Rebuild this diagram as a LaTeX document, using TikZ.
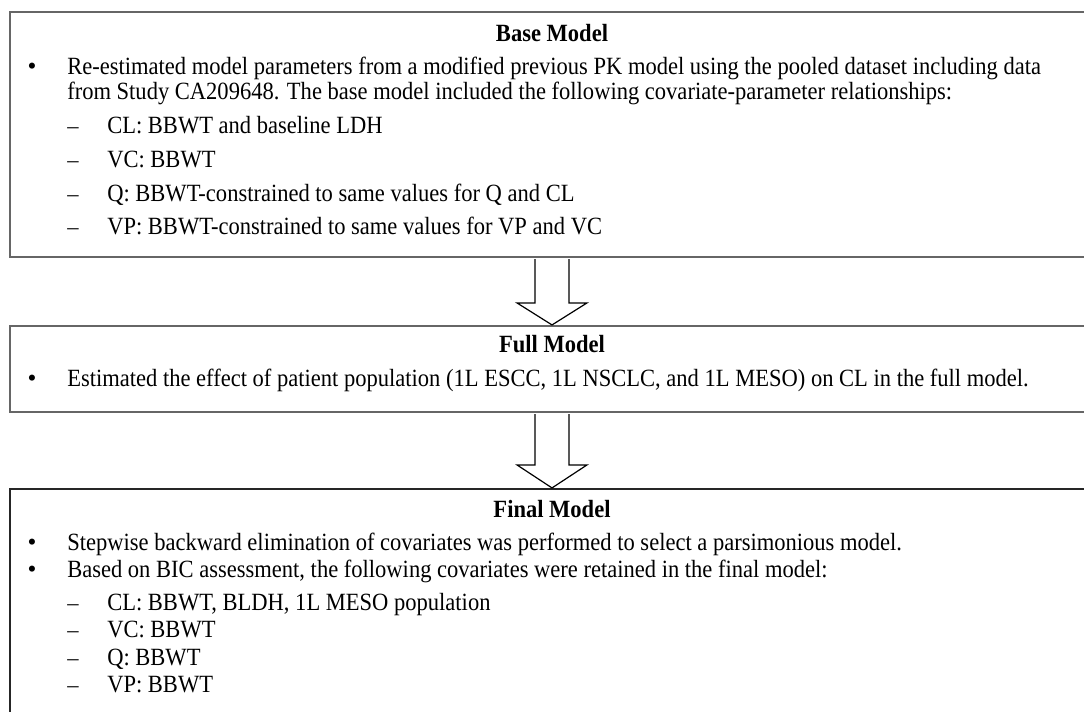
\documentclass[tikz,border=0pt]{standalone}
\usepackage{fontspec}
\usepackage{graphicx}
\setmainfont{Liberation Serif}
\usetikzlibrary{calc}
\newcommand{\vstr}[1]{\scalebox{1}[1.1]{#1}}
\begin{document}
\begin{tikzpicture}[x=0.75pt,y=-0.75pt,
  boxgray/.style={draw=black!60, line width=1.6pt, rectangle, inner sep=0pt, minimum width=813pt},
  boxdark/.style={draw=black!85, line width=1.6pt, rectangle, inner sep=0pt, minimum width=813pt},
  txt/.style={anchor=base west, inner sep=0pt, font=\fontsize{16.9}{20}\selectfont},
  ttl/.style={anchor=base, inner sep=0pt, font=\fontsize{16.9}{20}\selectfont\bfseries},
  bul/.style={anchor=base, inner sep=0pt, font=\fontsize{19}{20}\selectfont},
  blockarrow/.style={draw=black, line width=0.9pt, line join=miter}
]
\useasboundingbox (0,0) rectangle (1084,712);
\clip (0,0) rectangle (1084,712);
\fill[white] (0,0) rectangle (1084,712);

% boxes
\node[boxgray, minimum height=183.75pt] (base) at (552,134.5) {};
\node[boxgray, minimum height=64.5pt] (full) at (552,369) {};
\node[boxdark, minimum height=203.25pt] (final) at (552,624.5) {};

% arrows
\draw[blockarrow] ($(base.south)+(-17,1)$) -- ($(full.north)+(-17,-22)$) -- ($(full.north)+(-35,-22)$)
  -- (full.north) -- ($(full.north)+(35,-22)$) -- ($(full.north)+(17,-22)$) -- ($(base.south)+(17,1)$);
\draw[blockarrow] ($(full.south)+(-17,1)$) -- ($(final.north)+(-17,-23)$) -- ($(final.north)+(-35,-23)$)
  -- (final.north) -- ($(final.north)+(35,-23)$) -- ($(final.north)+(17,-23)$) -- ($(full.south)+(17,1)$);

% Base model text
\node[ttl] (t1) at (552,42) {\vstr{Base Model}};
\node[bul] (b1) at (32,75) {•};
\node[txt] (l1) at (67,75) {\vstr{Re-estimated model parameters from a modified previous PK model using the pooled dataset including data}};
\node[txt] (l2) at (67,100) {\vstr{from Study CA209648. The base model included the following covariate-parameter relationships:}};
\node[txt] (d1) at (67,134) {–};
\node[txt] (l3) at (107,134) {\vstr{CL: BBWT and baseline LDH}};
\node[txt] (d2) at (67,168) {–};
\node[txt] (l4) at (107,168) {\vstr{VC: BBWT}};
\node[txt] (d3) at (67,202) {–};
\node[txt] (l5) at (107,202) {\vstr{Q: BBWT-constrained to same values for Q and CL}};
\node[txt] (d4) at (67,235) {–};
\node[txt] (l6) at (107,235) {\vstr{VP: BBWT-constrained to same values for VP and VC}};

% Full model text
\node[ttl] (t2) at (552,353) {\vstr{Full Model}};
\node[bul] (b2) at (32,387) {•};
\node[txt] (l7) at (67,387) {\vstr{Estimated the effect of patient population (1L ESCC, 1L NSCLC, and 1L MESO) on CL in the full model.}};

% Final model text
\node[ttl] (t3) at (552,517) {\vstr{Final Model}};
\node[bul] (b3) at (32,550) {•};
\node[txt] (l8) at (67,550) {\vstr{Stepwise backward elimination of covariates was performed to select a parsimonious model.}};
\node[bul] (b4) at (32,577) {•};
\node[txt] (l9) at (67,577) {\vstr{Based on BIC assessment, the following covariates were retained in the final model:}};
\node[txt] (d5) at (67,610) {–};
\node[txt] (l10) at (107,610) {\vstr{CL: BBWT, BLDH, 1L MESO population}};
\node[txt] (d6) at (67,637) {–};
\node[txt] (l11) at (107,637) {\vstr{VC: BBWT}};
\node[txt] (d7) at (67,665) {–};
\node[txt] (l12) at (107,665) {\vstr{Q: BBWT}};
\node[txt] (d8) at (67,692) {–};
\node[txt] (l13) at (107,692) {\vstr{VP: BBWT}};
\end{tikzpicture}
\end{document}
